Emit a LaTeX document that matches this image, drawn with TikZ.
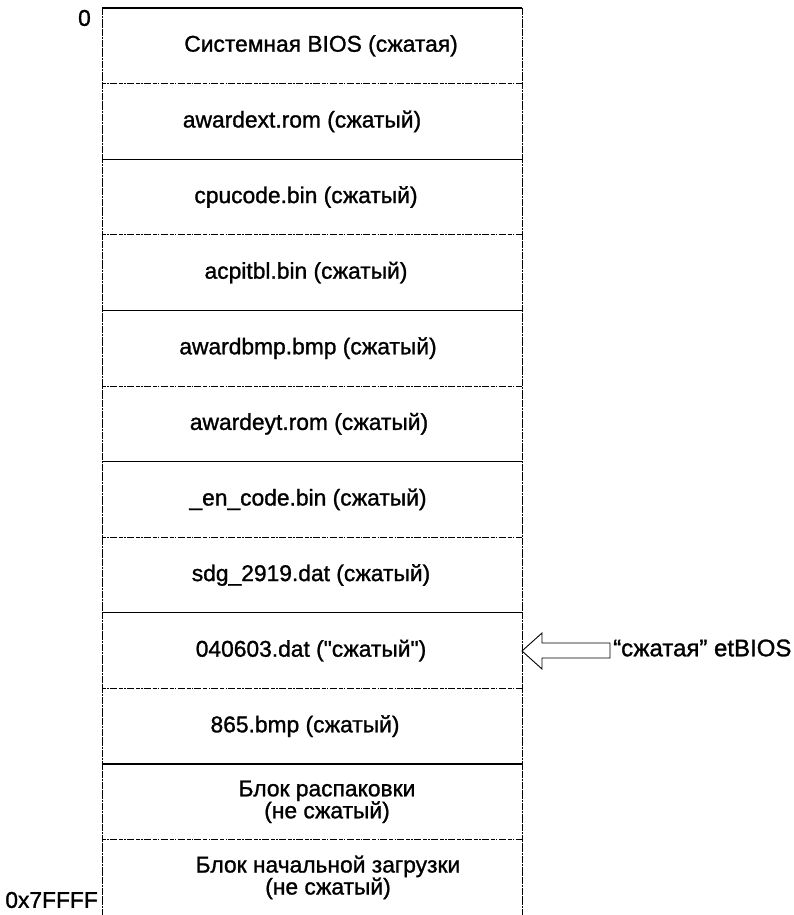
\documentclass[tikz,border=0pt]{standalone}
\usepackage{fontspec}
\newfontfamily\lsans[FakeBold=1.2]{Liberation Sans}
\begin{document}
\begin{tikzpicture}[x=1pt,y=-1pt,
  lbl/.style={font=\lsans\fontsize{22.8}{22}\selectfont, align=center, inner sep=0pt},
  addr/.style={font=\lsans\fontsize{22.8}{24}\selectfont, inner sep=0pt},
  side/.style={font=\lsans\fontsize{24}{26}\selectfont, inner sep=0pt},
  solidsep/.style={line width=1.3pt},
  dotsep/.style={line width=0.9pt, dash pattern=on 4pt off 1.2pt on 1.5pt off 1.2pt on 7pt off 2pt},
  border/.style={line width=0.9pt, dash pattern=on 7pt off 0.8pt on 2pt off 0.8pt},
  hollowarrow/.style={line width=0.9pt, line join=miter}]
\useasboundingbox (0,0) rectangle (794,915);
% column geometry
\def\xl{102}\def\xr{522}
% row labels
\node[lbl] (r1)  at (321, 45.8)  {Системная BIOS (сжатая)};
\node[lbl] (r2)  at (302, 121.4) {awardext.rom (сжатый)};
\node[lbl] (r3)  at (306, 197.0) {cpucode.bin (сжатый)};
\node[lbl] (r4)  at (306, 272.6) {acpitbl.bin (сжатый)};
\node[lbl] (r5)  at (308, 348.2) {awardbmp.bmp (сжатый)};
\node[lbl] (r6)  at (309, 423.8) {awardeyt.rom (сжатый)};
\node[lbl] (r7)  at (308, 499.4) {\_en\_code.bin (сжатый)};
\node[lbl] (r8)  at (311, 575.0) {sdg\_2919.dat (сжатый)};
\node[lbl] (r9)  at (311, 650.6) {040603.dat ("сжатый")};
\node[lbl] (r10) at (305, 726.2) {865.bmp (сжатый)};
\node[lbl] (r11) at (327, 801.8) {Блок распаковки\\(не сжатый)};
\node[lbl] (r12) at (328, 877.4) {Блок начальной загрузки\\(не сжатый)};
% address labels
\node[addr, anchor=east] (a0) at (91, 18) {0};
\node[addr, anchor=east] (a1) at (98, 900) {0x7FFFF};
% separators
\foreach \y in {8, 159.2, 310.4, 461.6, 612.8, 764.0}
  \draw[solidsep] (\xl,\y) -- (\xr,\y);
\foreach \y in {83.6, 234.8, 386.0, 537.2, 688.4, 839.6}
  \draw[dotsep] (\xl,\y) -- (\xr,\y);
% borders
\draw[border] (\xl,8) -- (\xl,915);
\draw[border] (\xr,8) -- (\xr,915);
% hollow arrow pointing at the etBIOS row
\coordinate (tip) at (\xr, 651);
\draw[hollowarrow] (tip) -- ++(20,-18) -- ++(0,10) -- ++(68,0) -- ++(0,15) -- ++(-68,0) -- ++(0,11) -- cycle;
\node[side, anchor=west] (et) at (613, 648) {“сжатая” etBIOS};
\end{tikzpicture}
\end{document}
